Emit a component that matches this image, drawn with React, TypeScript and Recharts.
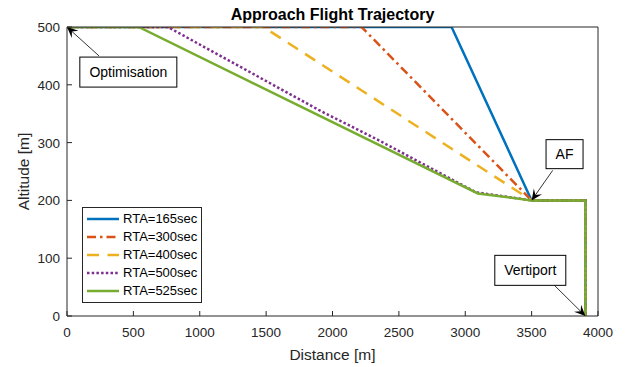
import React from 'react';
import {
  LineChart,
  Line,
  XAxis,
  YAxis,
  Legend,
  ReferenceLine,
  ReferenceDot,
  Label
} from 'recharts';

// axis ticks
const xTicks = [0, 500, 1000, 1500, 2000, 2500, 3000, 3500, 4000];
const yTicks = [0, 100, 200, 300, 400, 500];

// trajectories (distance [m] / altitude [m])
const rta165X = [0, 2897, 3500, 3905, 3905];
const rta165Y = [500, 500, 200, 200, 0];

const rta300X = [0, 2219, 3500, 3905, 3905];
const rta300Y = [500, 500, 200, 200, 0];

const rta400X = [0, 1480, 3500, 3905, 3905];
const rta400Y = [500, 500, 200, 200, 0];

const rta500X = [0, 760, 1900, 2357, 3080, 3500, 3905, 3905];
const rta500Y = [500, 500, 356, 303, 214, 200, 200, 0];

const rta525X = [0, 540, 3095, 3500, 3905, 3905];
const rta525Y = [500, 500, 212, 200, 200, 0];

const seriesNames = ['RTA=165sec', 'RTA=300sec', 'RTA=400sec', 'RTA=500sec', 'RTA=525sec'];

// annotations: text, box centre, arrow tail, arrow head (data units)
const noteText = ['Optimisation', 'AF', 'Vertiport'];
const noteBox = [[462, 422], [3748, 280], [3490, 79]];
const noteTail = [[241, 450], [3659, 252], [3663, 55]];
const noteHead = [[0, 500], [3500, 200], [3905, 0]];

const FONT = '"Liberation Sans", Arial, Helvetica, sans-serif';
const INK = '#262626';

const zip = (xs: number[], ys: number[]) => xs.map((x, i) => ({ x, y: ys[i] }));

const series = [
  { name: seriesNames[0], data: zip(rta165X, rta165Y), color: '#0072BD', dash: undefined },
  { name: seriesNames[1], data: zip(rta300X, rta300Y), color: '#D95319', dash: '9 4 2.5 4' },
  { name: seriesNames[2], data: zip(rta400X, rta400Y), color: '#EDB120', dash: '12 8.5' },
  { name: seriesNames[3], data: zip(rta500X, rta500Y), color: '#7E2F8E', dash: '2.5 2.2' },
  { name: seriesNames[4], data: zip(rta525X, rta525Y), color: '#77AC30', dash: undefined }
];

const boxSize: Record<string, [number, number]> = {
  Optimisation: [97, 30],
  AF: [37, 29],
  Vertiport: [71, 30]
};

const BottomTick = (props: any) => {
  const { x, y, payload } = props;
  return (
    <g>
      <line x1={x} y1={y} x2={x} y2={y - 5} stroke={INK} strokeWidth={1} />
      <text x={x} y={y + 21} textAnchor="middle" fontFamily={FONT} fontSize={13.5} fill={INK}>
        {payload.value}
      </text>
    </g>
  );
};

const LeftTick = (props: any) => {
  const { x, y, payload } = props;
  return (
    <g>
      <line x1={x} y1={y} x2={x + 5} y2={y} stroke={INK} strokeWidth={1} />
      <text x={x - 7} y={y + 5} textAnchor="end" fontFamily={FONT} fontSize={13.5} fill={INK}>
        {payload.value}
      </text>
    </g>
  );
};

const TopTick = (props: any) => {
  const { x, y } = props;
  return <line x1={x} y1={y} x2={x} y2={y + 5} stroke={INK} strokeWidth={1} />;
};

const RightTick = (props: any) => {
  const { x, y } = props;
  return <line x1={x} y1={y} x2={x - 5} y2={y} stroke={INK} strokeWidth={1} />;
};

const Arrow = (props: any) => {
  const { x1, y1, x2, y2 } = props;
  const dx = x2 - x1;
  const dy = y2 - y1;
  const len = Math.sqrt(dx * dx + dy * dy) || 1;
  const ux = dx / len;
  const uy = dy / len;
  const nx = -uy;
  const ny = ux;
  const L = 11;
  const W = 5;
  const bx = x2 - ux * L;
  const by = y2 - uy * L;
  const kx = x2 - ux * L * 0.6;
  const ky = y2 - uy * L * 0.6;
  const pts = `${x2},${y2} ${bx + nx * W},${by + ny * W} ${kx},${ky} ${bx - nx * W},${by - ny * W}`;
  return (
    <g>
      <line x1={x1} y1={y1} x2={kx} y2={ky} stroke="#000" strokeWidth={0.8} />
      <polygon points={pts} fill="#000" />
    </g>
  );
};

const makeBox = (text: string) => (props: any) => {
  const { cx, cy } = props;
  const [w, h] = boxSize[text];
  return (
    <g>
      <rect x={cx - w / 2} y={cy - h / 2} width={w} height={h} fill="#fff" stroke="#000" strokeWidth={1} />
      <text x={cx} y={cy + 5} textAnchor="middle" fontFamily={FONT} fontSize={14} fill="#000">
        {text}
      </text>
    </g>
  );
};

const LegendBox = () => (
  <div
    style={{
      border: `1px solid ${INK}`,
      background: '#fff',
      padding: '2px 4px',
      fontFamily: FONT,
      fontSize: 13,
      color: '#000',
      lineHeight: '18px'
    }}
  >
    {series.map((s) => (
      <div key={s.name} style={{ display: 'flex', alignItems: 'center', height: 18 }}>
        <svg width={32} height={8}>
          <line x1={0} y1={4} x2={32} y2={4} stroke={s.color} strokeWidth={2.5} strokeDasharray={s.dash} />
        </svg>
        <span style={{ marginLeft: 4 }}>{s.name}</span>
      </div>
    ))}
  </div>
);

export default function App() {
  return (
    <div style={{ position: 'absolute', left: 0, top: 0, width: 638, height: 367, background: '#fff' }}>
      <LineChart width={638} height={367} margin={{ top: 26, right: 39, bottom: 0, left: 0 }}>
        <XAxis
          dataKey="x"
          type="number"
          domain={[0, 4000]}
          ticks={xTicks}
          interval={0}
          height={51}
          tickSize={0}
          tickMargin={0}
          tick={<BottomTick />}
          axisLine={{ stroke: INK }}
          allowDataOverflow
        >
          <Label
            content={(p: any) => {
              const vb = p.viewBox;
              return (
                <text x={vb.x + vb.width / 2} y={360} textAnchor="middle" fontFamily={FONT} fontSize={15.5} fill={INK}>
                  Distance [m]
                </text>
              );
            }}
          />
        </XAxis>
        <XAxis
          xAxisId="top"
          orientation="top"
          type="number"
          dataKey="x"
          domain={[0, 4000]}
          ticks={xTicks}
          interval={0}
          height={1}
          tickSize={0}
          tickMargin={0}
          tick={<TopTick />}
          axisLine={{ stroke: INK }}
        >
          <Label
            content={(p: any) => {
              const vb = p.viewBox;
              return (
                <text x={vb.x + vb.width / 2} y={20} textAnchor="middle" fontFamily={FONT} fontSize={16} fontWeight="bold" fill="#000">
                  Approach Flight Trajectory
                </text>
              );
            }}
          />
        </XAxis>
        <YAxis
          type="number"
          domain={[0, 500]}
          ticks={yTicks}
          interval={0}
          width={67}
          tickSize={0}
          tickMargin={0}
          tick={<LeftTick />}
          axisLine={{ stroke: INK }}
          allowDataOverflow
        >
          <Label
            content={(p: any) => {
              const vb = p.viewBox;
              const cy = vb.y + vb.height / 2;
              return (
                <text
                  x={23}
                  y={cy}
                  transform={`rotate(-90, 23, ${cy})`}
                  textAnchor="middle"
                  dominantBaseline="central"
                  fontFamily={FONT}
                  fontSize={15.5}
                  fill={INK}
                >
                  Altitude [m]
                </text>
              );
            }}
          />
        </YAxis>
        <YAxis
          yAxisId="right"
          orientation="right"
          type="number"
          domain={[0, 500]}
          ticks={yTicks}
          interval={0}
          width={1}
          tickSize={0}
          tickMargin={0}
          tick={<RightTick />}
          axisLine={{ stroke: INK }}
        />
        <Legend
          layout="vertical"
          align="center"
          verticalAlign="middle"
          wrapperStyle={{ left: 82, top: 207, width: 'auto', height: 'auto' }}
          content={() => <LegendBox />}
        />
        {series.map((s) => (
          <Line
            key={s.name}
            name={s.name}
            data={s.data}
            dataKey="y"
            type="linear"
            stroke={s.color}
            strokeWidth={2.5}
            strokeDasharray={s.dash}
            dot={false}
            activeDot={false}
            isAnimationActive={false}
          />
        ))}
        {noteText.map((t, i) => (
          <ReferenceLine
            key={`arrow-${t}`}
            segment={[
              { x: noteTail[i][0], y: noteTail[i][1] },
              { x: noteHead[i][0], y: noteHead[i][1] }
            ]}
            ifOverflow="visible"
            shape={Arrow}
          />
        ))}
        {noteText.map((t, i) => (
          <ReferenceDot
            key={`box-${t}`}
            x={noteBox[i][0]}
            y={noteBox[i][1]}
            r={1}
            ifOverflow="visible"
            shape={makeBox(t)}
          />
        ))}
      </LineChart>
    </div>
  );
}
